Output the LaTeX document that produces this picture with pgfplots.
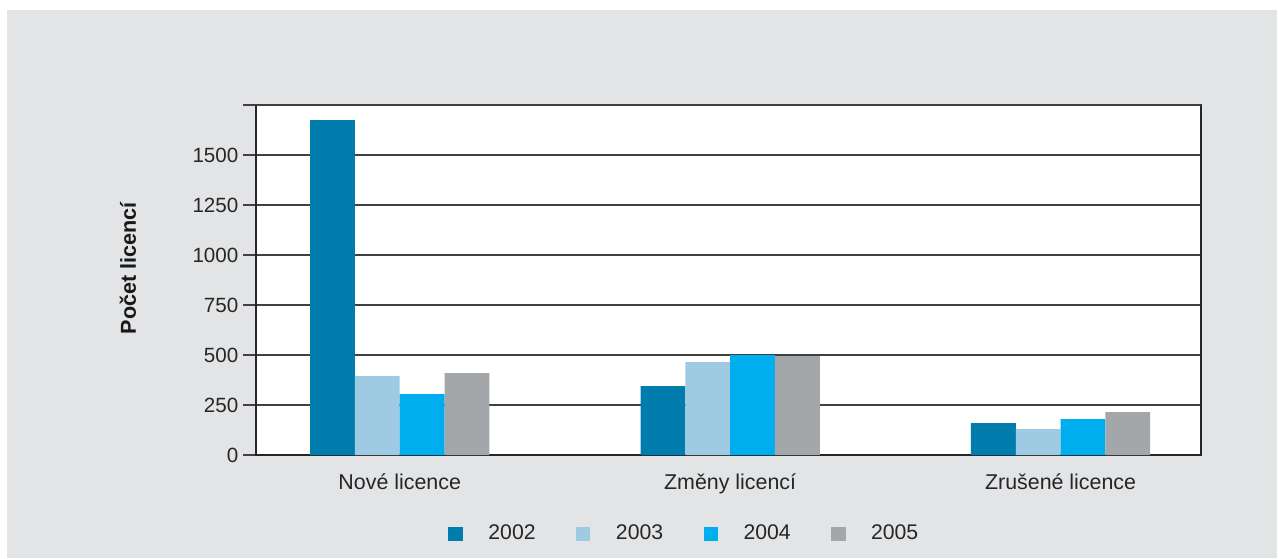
\documentclass[border=0pt]{standalone}
\usepackage{pgfplots}
\pgfplotsset{compat=1.18}
\usepackage{fontspec}
\setmainfont{Liberation Sans}
\definecolor{bgc}{HTML}{E3E4E6}
\definecolor{cA}{HTML}{007DAD}
\definecolor{cB}{HTML}{9ECBE3}
\definecolor{cC}{HTML}{00AEEF}
\definecolor{cD}{HTML}{A4A7AA}
\begin{document}
\begin{tikzpicture}
\fill[white] (-128pt,-51.5pt) rectangle (511pt,227.5pt);
\fill[bgc] (-124.5pt,-51.5pt) rectangle (510.5pt,222.5pt);
\begin{axis}[
  at={(0,0)}, anchor=south west,
  scale only axis, width=472.5pt, height=175pt,
  axis background/.style={fill=white},
  ybar, bar width=22.4pt,
  xmin=-0.435, xmax=2.425, ymin=0, ymax=1750,
  ytick={0,250,...,1500},
  extra y ticks={1750}, extra y tick labels={},
  ytick pos=left, xtick pos=bottom,
  tick align=outside, major tick length=6.5pt,
  ymajorgrids, grid style={black!75, line width=0.7pt},
  every tick/.style={black!75, line width=0.7pt},
  axis line style={black!85, line width=0.8pt},
  xtick={0,1,2},
  xticklabels={Nové licence, Změny licencí, Zrušené licence},
  x tick style={draw=none},
  extra x ticks={-0.435,0.5,1.5,2.425},
  extra x tick labels={},
  extra x tick style={grid=none, major tick length=6pt, tick style={black!70, line width=0.8pt}},
  xticklabel style={font=\fontsize{10.7}{12}\selectfont, text=black!85, yshift=0.5pt},
  yticklabel style={font=\fontsize{10.3}{12}\selectfont, text=black!85, xshift=1.2pt},
  /pgf/number format/assume math mode=true,
  /pgf/number format/1000 sep={},
  ylabel={\bfseries Počet licencí},
  ylabel style={font=\fontsize{10.8}{12}\selectfont, text=black!90, at={(axis description cs:-0.1354,0.534)}, anchor=center, rotate=0},
  legend columns=4,
  legend style={draw=none, fill=none, inner sep=0pt, at={(axis description cs:0.2032,-0.2257)}, anchor=west,
    font=\fontsize{10.6}{12}\selectfont, text=black!85,
    /tikz/every even column/.append style={column sep=18.2pt}},
  legend image code/.code={\fill[#1] (0pt,-3.6pt) rectangle (7.2pt,3.6pt); \path[draw=none,fill=none] (0pt,0pt) -- (18pt,0pt);},
]
\addplot[fill=cA, draw=none, bar shift=-33.6pt] coordinates {(0,1675) (1,345) (2,160)};
\addplot[fill=cB, draw=none, bar shift=-11.2pt] coordinates {(0,395) (1,465) (2,130)};
\addplot[fill=cC, draw=none, bar shift=11.2pt] coordinates {(0,305) (1,500) (2,180)};
\addplot[fill=cD, draw=none, bar shift=33.6pt] coordinates {(0,410) (1,495) (2,215)};
\legend{2002,2003,2004,2005}
\end{axis}
\end{tikzpicture}
\end{document}
